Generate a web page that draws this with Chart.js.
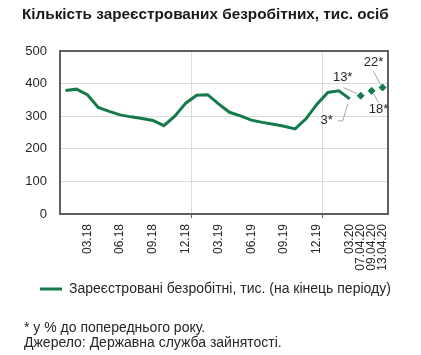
<!DOCTYPE html>
<html>
<head>
<meta charset="utf-8">
<script src="https://cdn.jsdelivr.net/npm/chart.js@4/dist/chart.umd.min.js"></script>
<style>
  html, body { margin: 0; padding: 0; background: #ffffff; }
  #wrap { position: relative; width: 421px; height: 355px; font-family: "Liberation Sans", Arial, sans-serif; color: #262626; }
  #title { position: absolute; left: 22px; top: 5px; font-size: 15.3px; font-weight: bold; white-space: nowrap; color: #1a1a1a; }
  canvas { position: absolute; left: 0; top: 0; }
  .note { position: absolute; left: 24px; font-size: 14px; white-space: nowrap; }
</style>
</head>
<body>
<div id="wrap">
  <canvas id="c" width="421" height="355"></canvas>
  <div id="title">Кількість зареєстрованих безробітних, тис. осіб</div>
  <div class="note" style="top:319px">* у % до попереднього року.</div>
  <div class="note" style="top:334px">Джерело: Державна служба зайнятості.</div>
</div>
<script>
// Categories: months 01.18 .. 03.20, then weekly dates in April 2020
const categories = [
  '01.18','02.18','03.18','04.18','05.18','06.18','07.18','08.18','09.18','10.18','11.18','12.18',
  '01.19','02.19','03.19','04.19','05.19','06.19','07.19','08.19','09.19','10.19','11.19','12.19',
  '01.20','02.20','03.20','07.04.20','09.04.20','13.04.20'
];
// Tick labels shown on the axis
const shownTicks = ['03.18','06.18','09.18','12.18','03.19','06.19','09.19','12.19','03.20','07.04.20','09.04.20','13.04.20'];
// Registered unemployed, thousand persons (end of period) — monthly
const unemployedMonthly = [
  379, 383, 366, 327, 315, 304, 298, 293, 287, 271, 300, 340,
  364, 366, 338, 312, 301, 288, 281, 275, 269, 261, 292, 337,
  373, 378, 353, null, null, null
];
// Weekly observations in April 2020
const unemployedWeekly = [
  null, null, null, null, null, null, null, null, null, null, null, null,
  null, null, null, null, null, null, null, null, null, null, null, null,
  null, null, null, 363, 378, 388
];
// Year-on-year growth annotations (% to previous year)
const growthLabels = ['3*', '13*', '18*', '22*'];
const growthAt = ['03.20', '07.04.20', '09.04.20', '13.04.20'];
const yTicks = [0, 100, 200, 300, 400, 500];

const GREEN = '#157a4a';
const BORDER = '#5f5f5f';
const GRID = '#dcdcdc';
const FONT = '"Liberation Sans", Arial, sans-serif';

// annotation styling: label offset and leader path relative to the point
const annStyle = [
  { dx: -23, dy: 21, path: [[-2, 5], [-7, 22], [-12, 22]] },
  { dx: -18, dy: -18, path: [[-17, -8], [-4, -2]] },
  { dx: 7, dy: 19, path: [[2, 3], [7, 12]] },
  { dx: -9, dy: -25, path: [[-9, -16], [-2, -3]] }
];

const frameAndNotes = {
  id: 'frameAndNotes',
  afterDatasetsDraw(chart) {
    const ctx = chart.ctx;
    const a = chart.chartArea;
    const xs = chart.scales.x, ys = chart.scales.y;
    ctx.save();
    ctx.strokeStyle = BORDER;
    ctx.lineWidth = 2;
    ctx.strokeRect(a.left, a.top, a.right - a.left, a.bottom - a.top);
    ctx.font = '13px ' + FONT;
    ctx.textAlign = 'center';
    ctx.textBaseline = 'middle';
    growthLabels.forEach((txt, i) => {
      const idx = categories.indexOf(growthAt[i]);
      const v = unemployedMonthly[idx] != null ? unemployedMonthly[idx] : unemployedWeekly[idx];
      const px = xs.getPixelForValue(idx);
      const py = ys.getPixelForValue(v);
      const st = annStyle[i];
      ctx.strokeStyle = '#a6a6a6';
      ctx.lineWidth = 1;
      ctx.beginPath();
      st.path.forEach((p, k) => {
        if (k === 0) ctx.moveTo(px + p[0], py + p[1]); else ctx.lineTo(px + p[0], py + p[1]);
      });
      ctx.stroke();
      ctx.fillStyle = '#262626';
      ctx.fillText(txt, px + st.dx, py + st.dy);
    });
    ctx.restore();
  }
};

new Chart(document.getElementById('c'), {
  type: 'line',
  data: {
    labels: categories,
    datasets: [
      {
        label: 'Зареєстровані безробітні, тис. (на кінець періоду)',
        data: unemployedMonthly,
        borderColor: GREEN,
        backgroundColor: GREEN,
        borderWidth: 3,
        pointRadius: 0,
        tension: 0,
        spanGaps: false
      },
      {
        label: 'weekly',
        data: unemployedWeekly,
        borderColor: GREEN,
        backgroundColor: GREEN,
        showLine: false,
        pointStyle: 'rectRot',
        pointRadius: 3.5,
        pointBorderWidth: 1
      }
    ]
  },
  options: {
    responsive: false,
    animation: false,
    devicePixelRatio: 1,
    layout: { padding: { top: 51, left: 30, right: 0, bottom: 49 } },
    plugins: {
      title: { display: false },
      tooltip: { enabled: false },
      legend: {
        position: 'bottom',
        align: 'start',
        labels: {
          font: { size: 14, family: FONT },
          color: '#262626',
          boxWidth: 22,
          boxHeight: 3,
          padding: 10,
          generateLabels: (chart) => [{
            text: chart.data.datasets[0].label,
            fillStyle: GREEN,
            strokeStyle: GREEN,
            lineWidth: 0,
            hidden: false,
            datasetIndex: 0,
            fontColor: '#262626'
          }]
        }
      }
    },
    scales: {
      x: {
        type: 'category',
        offset: true,
        afterFit: (s) => { s.height = 58; },
        border: { display: true, color: BORDER, width: 2 },
        grid: {
          offset: true,
          drawTicks: true,
          tickLength: 4,
          color: (c) => (c.index === 12 || c.index === 24) ? GRID : 'rgba(0,0,0,0)',
          tickColor: (c) => (c.index === 12 || c.index === 24) ? BORDER : 'rgba(0,0,0,0)'
        },
        ticks: {
          autoSkip: false,
          minRotation: 90,
          maxRotation: 90,
          padding: 6,
          color: '#262626',
          font: { size: 12, family: FONT },
          callback: function (val, i) {
            const lab = categories[i];
            return shownTicks.includes(lab) ? lab : '';
          }
        }
      },
      y: {
        min: 0,
        max: 500,
        afterFit: (s) => {
          s.width = 30;
          // let the tick labels extend into the left margin without clipping
          s._computeLabelArea = () => undefined;
        },
        afterBuildTicks: (s) => { s.ticks = yTicks.map(v => ({ value: v })); },
        border: { display: true, color: BORDER, width: 2 },
        grid: { color: GRID, drawTicks: false, lineWidth: 1 },
        ticks: {
          padding: 13,
          color: '#262626',
          font: { size: 13, family: FONT }
        }
      },
      // empty right-hand margin axis (keeps the plot's right edge in place)
      yRight: {
        type: 'linear',
        position: 'right',
        min: 0,
        max: 1,
        afterFit: (s) => { s.width = 33; },
        border: { display: false },
        grid: { display: false, drawOnChartArea: false },
        ticks: { display: false }
      }
    }
  },
  plugins: [frameAndNotes]
});
</script>
</body>
</html>
